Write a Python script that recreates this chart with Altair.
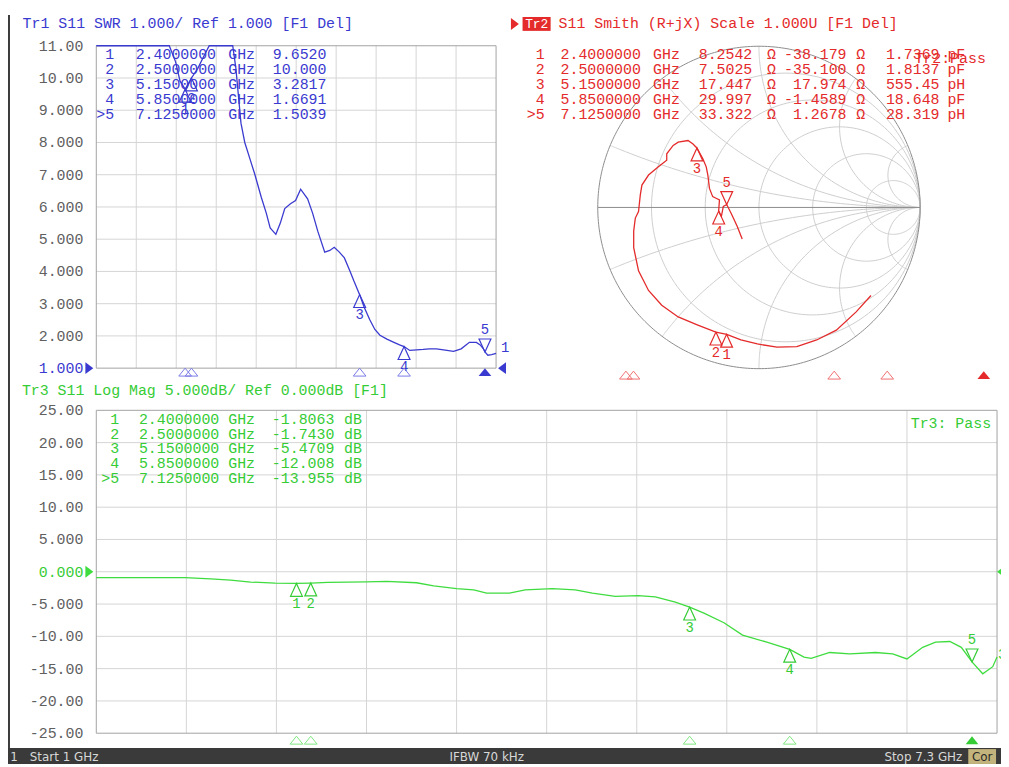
import altair as alt
import numpy as np
import pandas as pd

# ---------------- data ----------------
marker_ids = ["1", "2", "3", "4", ">5"]
marker_nums = ["1", "2", "3", "4", "5"]
marker_freq = [2.4, 2.5, 5.15, 5.85, 7.125]
marker_freq_txt = ["2.4000000", "2.5000000", "5.1500000", "5.8500000", "7.1250000"]

swr_marker_val = [9.6520, 10.000, 3.2817, 1.6691, 1.5039]
swr_marker_txt = ["9.6520", "10.000", "3.2817", "1.6691", "1.5039"]

smith_R = [8.2542, 7.5025, 17.447, 29.997, 33.322]
smith_X = [-38.179, -35.100, 17.974, -1.4589, 1.2678]
smith_R_txt = ["8.2542", "7.5025", "17.447", "29.997", "33.322"]
smith_X_txt = ["-38.179", "-35.100", "17.974", "-1.4589", "1.2678"]
smith_LC_txt = ["1.7369", "1.8137", "555.45", "18.648", "28.319"]
smith_LC_unit = ["pF", "pF", "pH", "pF", "pH"]

logmag_marker_val = [-1.8063, -1.7430, -5.4709, -12.008, -13.955]
logmag_marker_txt = ["-1.8063", "-1.7430", "-5.4709", "-12.008", "-13.955"]

swr_freq = [1.0, 2.15, 2.25, 2.32, 2.4, 2.5, 2.6, 2.7, 2.78, 3.15, 3.2, 3.28, 3.34,
            3.42, 3.5, 3.6, 3.68, 3.74, 3.83, 3.9, 3.97, 4.06, 4.14, 4.22, 4.33,
            4.41, 4.49, 4.6, 4.68, 4.75, 4.83, 4.91, 5.0, 5.06, 5.15, 5.22, 5.31,
            5.39, 5.47, 5.58, 5.69, 5.78, 5.85, 5.94, 6.05, 6.15, 6.25, 6.36, 6.5,
            6.63, 6.75, 6.88, 6.99, 7.05, 7.1, 7.125, 7.17, 7.23, 7.3]
swr_vals = [11.0, 11.0, 10.5, 9.9, 9.652, 10.0, 10.3, 10.7, 11.0, 11.0, 10.3, 8.6, 8.0,
            7.5, 7.0, 6.3, 5.8, 5.35, 5.15, 5.5, 5.95, 6.1, 6.2, 6.55, 6.25,
            5.8, 5.25, 4.6, 4.65, 4.75, 4.6, 4.42, 4.0, 3.7, 3.28, 2.9, 2.5,
            2.2, 2.02, 1.9, 1.8, 1.72, 1.669, 1.55, 1.57, 1.58, 1.6, 1.6, 1.56,
            1.52, 1.6, 1.8, 1.8, 1.72, 1.6, 1.504, 1.4, 1.42, 1.46]

logmag_freq = [1.0, 1.62, 1.8, 1.94, 2.08, 2.25, 2.4, 2.5, 2.62, 2.89, 3.03, 3.24, 3.36,
               3.52, 3.64, 3.73, 3.89, 4.0, 4.19, 4.35, 4.47, 4.63, 4.79, 4.91, 5.05,
               5.15, 5.25, 5.39, 5.52, 5.69, 5.85, 5.95, 6.0, 6.13, 6.27, 6.45, 6.57,
               6.67, 6.78, 6.87, 6.97, 7.05, 7.125, 7.2, 7.27, 7.3]
logmag_vals = [-0.9, -0.9, -1.1, -1.3, -1.6, -1.75, -1.806, -1.743, -1.65, -1.55, -1.5, -1.7, -2.2,
               -2.6, -2.8, -3.3, -3.3, -2.8, -2.6, -2.8, -3.3, -3.8, -3.7, -3.9, -4.7,
               -5.471, -6.4, -7.9, -9.8, -10.9, -12.008, -13.2, -13.4, -12.5, -12.7, -12.5, -12.7,
               -13.5, -11.7, -10.9, -10.8, -11.7, -13.955, -15.8, -14.7, -13.2]

smith_re = [0.695, 0.603, 0.480, 0.358, 0.235, 0.112, -0.010, -0.112, -0.200, -0.267,
            -0.379, -0.501, -0.603, -0.685, -0.747, -0.777, -0.777, -0.767, -0.747, -0.736,
            -0.726, -0.685, -0.624, -0.572, -0.572, -0.532, -0.501, -0.440, -0.409, -0.385,
            -0.348, -0.327, -0.317, -0.307, -0.287, -0.266, -0.245, -0.250, -0.233, -0.221,
            -0.200, -0.172, -0.135, -0.104]
smith_im = [-0.546, -0.648, -0.761, -0.822, -0.863, -0.867, -0.847, -0.822, -0.787, -0.774,
            -0.730, -0.679, -0.607, -0.515, -0.393, -0.250, -0.147, -0.066, -0.025, 0.078,
            0.139, 0.201, 0.252, 0.293, 0.333, 0.385, 0.405, 0.415, 0.394, 0.369,
            0.302, 0.252, 0.201, 0.118, 0.067, 0.057, 0.047, -0.023, -0.055, 0.006,
            0.018, -0.037, -0.117, -0.196]

swr_ticks = [11, 10, 9, 8, 7, 6, 5, 4, 3, 2, 1]
swr_tick_labels = ["11.00", "10.00", "9.000", "8.000", "7.000", "6.000", "5.000",
                   "4.000", "3.000", "2.000", "1.000"]
logmag_ticks = [25, 20, 15, 10, 5, 0, -5, -10, -15, -20, -25]
logmag_tick_labels = ["25.00", "20.00", "15.00", "10.00", "5.000", "0.000", "-5.000",
                      "-10.00", "-15.00", "-20.00", "-25.00"]

smith_r_circles = [0.2, 0.5, 1.0, 2.0, 5.0]
smith_x_arcs = [0.2, 0.5, 1.0, 2.0, 5.0]

# ---------------- styles ----------------
MONO = "Liberation Mono"
SANS = "DejaVu Sans"
FS = 15
BLUE = "#3a3ad0"
BLUE_L = "#7a7ae6"
RED = "#e42a2a"
RED_L = "#f07070"
GREEN = "#3fdc3f"
GREEN_T = "#35cc35"
GREEN_L = "#80e880"
GRID = "#d4d4d4"
FRAME = "#a2a2a2"
LABEL = "#606060"
W, H = 1001, 759

TRI_UP = "M0,0L0.46,1L-0.46,1Z"
TRI_DN = "M0,0L0.46,-1L-0.46,-1Z"
STIM = "M0,-1L1.6,1L-1.6,1Z"
ARR_R = "M-1,-1.5L1,0L-1,1.5Z"
ARR_L = "M1,-1.5L-1,0L1,1.5Z"


def sc(dom, rng):
    return alt.Scale(domain=dom, range=rng, nice=False, zero=False)


SWR_XS = sc([1.0, 7.3], [89, 492])
SWR_YS = sc([1.0, 11.0], [360, 35])
LM_XS = sc([1.0, 7.3], [89, 997])
LM_YS = sc([-25.0, 25.0], [728, 402.5])
SM_XS = sc([-1.0, 1.0], [594.5, 919.5])
SM_YS = sc([-1.0, 1.0], [360.5, 35.5])
SM_FS = sc([1.0, 7.3], [516, 997])

ONE = pd.DataFrame({"k": [0]})


def txt(s, px, py, color, size=FS, align="left", font=MONO, weight="normal"):
    return alt.Chart(pd.DataFrame({"t": [s]})).mark_text(
        align=align, baseline="middle", font=font, fontSize=size, color=color, fontWeight=weight
    ).encode(x=alt.value(px), y=alt.value(py), text="t:N")


def box(x1, x2, y1, y2, fill):
    return alt.Chart(ONE).mark_rect(color=fill).encode(
        x=alt.value(x1), x2=alt.value(x2), y=alt.value(y1), y2=alt.value(y2))


def frame(x1, x2, y1, y2):
    return alt.Chart(ONE).mark_rect(fill="white", fillOpacity=0, stroke=FRAME, strokeWidth=1).encode(
        x=alt.value(x1), x2=alt.value(x2), y=alt.value(y1), y2=alt.value(y2))


def vgrid(xsc, y1, y2, vals):
    return alt.Chart(pd.DataFrame({"v": vals})).mark_rule(color=GRID, strokeWidth=1).encode(
        x=alt.X("v:Q", scale=xsc, axis=None), y=alt.value(y1), y2=alt.value(y2))


def hgrid(ysc, x1, x2, vals):
    return alt.Chart(pd.DataFrame({"v": vals})).mark_rule(color=GRID, strokeWidth=1).encode(
        y=alt.Y("v:Q", scale=ysc, axis=None), x=alt.value(x1), x2=alt.value(x2))


def ylabels(ysc, vals, labels, px, color):
    return alt.Chart(pd.DataFrame({"v": vals, "t": labels})).mark_text(
        align="right", baseline="middle", font=MONO, fontSize=FS, color=color
    ).encode(x=alt.value(px), y=alt.Y("v:Q", scale=ysc, axis=None), text="t:N")


def tcol(texts, px, yr, color, align="left"):
    df = pd.DataFrame({"r": list(range(len(texts))), "t": texts})
    return alt.Chart(df).mark_text(
        align=align, baseline="middle", font=MONO, fontSize=FS, color=color
    ).encode(x=alt.value(px),
             y=alt.Y("r:Q", scale=sc([0, len(texts) - 1], yr), axis=None),
             text="t:N")


def on_trace(xv, yv, xsc, ysc, color, active=4):
    df = pd.DataFrame({"x": xv, "y": yv, "n": marker_nums})
    up = df.drop(index=active)
    dn = df.loc[[active]]
    ex = alt.X("x:Q", scale=xsc, axis=None)
    ey = alt.Y("y:Q", scale=ysc, axis=None)
    return [
        alt.Chart(up).mark_point(shape=TRI_UP, size=676, filled=False, color=color,
                                 strokeWidth=1.2, opacity=1).encode(x=ex, y=ey),
        alt.Chart(up).mark_text(dy=21, font=MONO, fontSize=14, color=color,
                                baseline="middle").encode(x=ex, y=ey, text="n:N"),
        alt.Chart(dn).mark_point(shape=TRI_DN, size=676, filled=False, color=color,
                                 strokeWidth=1.2, opacity=1).encode(x=ex, y=ey),
        alt.Chart(dn).mark_text(dy=-22, font=MONO, fontSize=14, color=color,
                                baseline="middle").encode(x=ex, y=ey, text="n:N"),
    ]


def stim(xsc, py, light, dark, active=4):
    df = pd.DataFrame({"f": marker_freq})
    ex = alt.X("f:Q", scale=xsc, axis=None)
    return [
        alt.Chart(df.drop(index=active)).mark_point(shape=STIM, size=64, filled=False, color=light,
                                                   strokeWidth=1, opacity=1).encode(x=ex, y=alt.value(py)),
        alt.Chart(df.loc[[active]]).mark_point(shape=STIM, size=64, filled=True, color=dark,
                                              opacity=1).encode(x=ex, y=alt.value(py)),
    ]


def arrow(px, ysc, val, color, shape):
    return alt.Chart(pd.DataFrame({"v": [val]})).mark_point(
        shape=shape, size=64, filled=True, color=color, opacity=1
    ).encode(x=alt.value(px), y=alt.Y("v:Q", scale=ysc, axis=None))


layers = []

# ---------------- frame of the screen ----------------
layers.append(box(0, 2, 4, 743, "#3c3c3c"))
layers.append(box(0, W, 743, H, "#3a3a3a"))
layers.append(box(968, 996, 744, H, "#c2b47c"))
layers.append(txt("1", 6, 752, "#d8d8d8", size=12, align="center", font=SANS))
layers.append(txt("Start 1 GHz", 22, 752, "#d8d8d8", size=12, font=SANS))
layers.append(txt("IFBW 70 kHz", 445, 752, "#d8d8d8", size=12, font=SANS))
layers.append(txt("Stop 7.3 GHz", 962, 752, "#d8d8d8", size=12, align="right", font=SANS))
layers.append(txt("Cor", 982, 752, "#2a2a2a", size=12, align="center", font=SANS))

# ---------------- Tr1 : SWR ----------------
grid_f = list(np.linspace(1.0, 7.3, 11)[1:-1])
layers.append(vgrid(SWR_XS, 35, 360, grid_f))
layers.append(hgrid(SWR_YS, 89, 492, swr_ticks[1:-1]))
layers.append(frame(89, 492, 35, 360))
layers.append(ylabels(SWR_YS, swr_ticks[:-1], swr_tick_labels[:-1], 76, LABEL))
layers.append(ylabels(SWR_YS, swr_ticks[-1:], swr_tick_labels[-1:], 76, BLUE))
layers.append(arrow(82, SWR_YS, 1.0, BLUE, ARR_R))
layers.append(arrow(498, SWR_YS, 1.0, BLUE, ARR_L))
layers.append(alt.Chart(pd.DataFrame({"f": swr_freq, "v": swr_vals})).mark_line(
    color=BLUE, strokeWidth=1.3).encode(
    x=alt.X("f:Q", scale=SWR_XS, axis=None), y=alt.Y("v:Q", scale=SWR_YS, axis=None)))
layers += on_trace(marker_freq, swr_marker_val, SWR_XS, SWR_YS, BLUE)
layers += stim(SWR_XS, 364, BLUE_L, BLUE)
layers.append(txt("1", 497, 340, BLUE, size=14))
layers.append(txt("Tr1 S11 SWR 1.000/ Ref 1.000 [F1 Del]", 14.7, 12, BLUE))
TOP_ROWS = [43.7, 103.7]
layers.append(tcol(marker_ids, 107, TOP_ROWS, BLUE, "right"))
layers.append(tcol(marker_freq_txt, 128.7, TOP_ROWS, BLUE))
layers.append(tcol(["GHz"] * 5, 222, TOP_ROWS, BLUE))
layers.append(tcol(swr_marker_txt, 321, TOP_ROWS, BLUE, "right"))

# ---------------- Tr2 : Smith ----------------
rows = []
gid = 0
th = np.linspace(0, 2 * np.pi, 181)
for r in smith_r_circles:
    c, rad = r / (1 + r), 1 / (1 + r)
    for k, t in enumerate(th):
        rows.append({"g": gid, "k": k, "re": c + rad * np.cos(t), "im": rad * np.sin(t)})
    gid += 1
rr = np.concatenate([[0.0], np.logspace(-2.5, 3.5, 160)])
for xv in smith_x_arcs:
    for s in (1, -1):
        gam = (rr + 1j * s * xv - 1) / (rr + 1j * s * xv + 1)
        for k, v in enumerate(gam):
            rows.append({"g": gid, "k": k, "re": float(v.real), "im": float(v.imag)})
        gid += 1
grid_df = pd.DataFrame(rows)
outer_df = pd.DataFrame({"k": list(range(361)),
                         "re": np.cos(np.linspace(0, 2 * np.pi, 361)),
                         "im": np.sin(np.linspace(0, 2 * np.pi, 361))})
sx = alt.X("re:Q", scale=SM_XS, axis=None)
sy = alt.Y("im:Q", scale=SM_YS, axis=None)
layers.append(alt.Chart(grid_df).mark_line(color="#cdcdcd", strokeWidth=1).encode(
    x=sx, y=sy, detail="g:N", order="k:Q"))
layers.append(alt.Chart(outer_df).mark_line(color="#8c8c8c", strokeWidth=1).encode(
    x=sx, y=sy, order="k:Q"))
layers.append(alt.Chart(pd.DataFrame({"a": [-1.0], "b": [1.0], "z": [0.0]})).mark_rule(
    color="#8c8c8c", strokeWidth=1).encode(
    x=alt.X("a:Q", scale=SM_XS, axis=None), x2="b:Q", y=alt.Y("z:Q", scale=SM_YS, axis=None)))
smith_df = pd.DataFrame({"i": list(range(len(smith_re))), "re": smith_re, "im": smith_im})
layers.append(alt.Chart(smith_df).mark_line(color=RED, strokeWidth=1.3).encode(
    x=sx, y=sy, order="i:Q"))
zn = (np.array(smith_R) + 1j * np.array(smith_X)) / 50.0
gm = (zn - 1) / (zn + 1)
layers += on_trace(list(gm.real), list(gm.imag), SM_XS, SM_YS, RED)
layers += stim(SM_FS, 367, RED_L, RED)
layers.append(arrow(511, SM_YS, 1.0, RED, ARR_R).encode(y=alt.value(13)))
layers.append(box(518.7, 547, 6, 20, RED))
layers.append(txt("Tr2", 533, 13.5, "white", size=13, align="center"))
layers.append(txt("S11 Smith (R+jX) Scale 1.000U [F1 Del]", 555, 12, RED))
layers.append(tcol(marker_ids, 541, TOP_ROWS, RED, "right"))
layers.append(tcol(marker_freq_txt, 557, TOP_ROWS, RED))
layers.append(tcol(["GHz"] * 5, 650.3, TOP_ROWS, RED))
layers.append(tcol(smith_R_txt, 750.3, TOP_ROWS, RED, "right"))
layers.append(tcol(["\u03a9"] * 5, 765, TOP_ROWS, RED))
layers.append(tcol(smith_X_txt, 845.3, TOP_ROWS, RED, "right"))
layers.append(tcol(["\u03a9"] * 5, 855, TOP_ROWS, RED))
layers.append(tcol(smith_LC_txt, 939, TOP_ROWS, RED, "right"))
layers.append(tcol(smith_LC_unit, 947, TOP_ROWS, RED))
layers.append(txt("Tr2:Pass", 913.7, 47, RED))

# ---------------- Tr3 : Log Mag ----------------
layers.append(vgrid(LM_XS, 402.5, 728, grid_f))
layers.append(hgrid(LM_YS, 89, 997, logmag_ticks[1:-1]))
layers.append(frame(89, 997, 402.5, 728))
lbl_other = [i for i, v in enumerate(logmag_ticks) if v != 0]
layers.append(ylabels(LM_YS, [logmag_ticks[i] for i in lbl_other],
                      [logmag_tick_labels[i] for i in lbl_other], 76, LABEL))
layers.append(ylabels(LM_YS, [0], ["0.000"], 76, GREEN_T))
layers.append(arrow(82, LM_YS, 0.0, GREEN, ARR_R))
layers.append(arrow(1001, LM_YS, 0.0, GREEN, ARR_L))
layers.append(alt.Chart(pd.DataFrame({"f": logmag_freq, "v": logmag_vals})).mark_line(
    color=GREEN, strokeWidth=1.3).encode(
    x=alt.X("f:Q", scale=LM_XS, axis=None), y=alt.Y("v:Q", scale=LM_YS, axis=None)))
layers += on_trace(marker_freq, logmag_marker_val, LM_XS, LM_YS, GREEN_T)
layers += stim(LM_XS, 735, GREEN_L, GREEN_T)
layers.append(txt("3", 998, 649, GREEN_T, size=14))
layers.append(txt("Tr3 S11 Log Mag 5.000dB/ Ref 0.000dB [F1]", 14, 382, GREEN_T))
layers.append(txt("Tr3: Pass", 910, 415, GREEN_T))
LM_ROWS = [411, 471]
layers.append(tcol(marker_ids, 112, LM_ROWS, GREEN_T, "right"))
layers.append(tcol(marker_freq_txt, 132, LM_ROWS, GREEN_T))
layers.append(tcol(["GHz"] * 5, 222, LM_ROWS, GREEN_T))
layers.append(tcol(logmag_marker_txt, 329, LM_ROWS, GREEN_T, "right"))
layers.append(tcol(["dB"] * 5, 338.7, LM_ROWS, GREEN_T))

chart = alt.layer(*layers).resolve_scale(
    x="independent", y="independent"
).properties(
    width=W, height=H, padding=0,
    autosize=alt.AutoSizeParams(type="none"),
    background="white",
).configure_view(strokeWidth=0)

chart.save("out.html", embed_options={"renderer": "svg", "actions": False})
